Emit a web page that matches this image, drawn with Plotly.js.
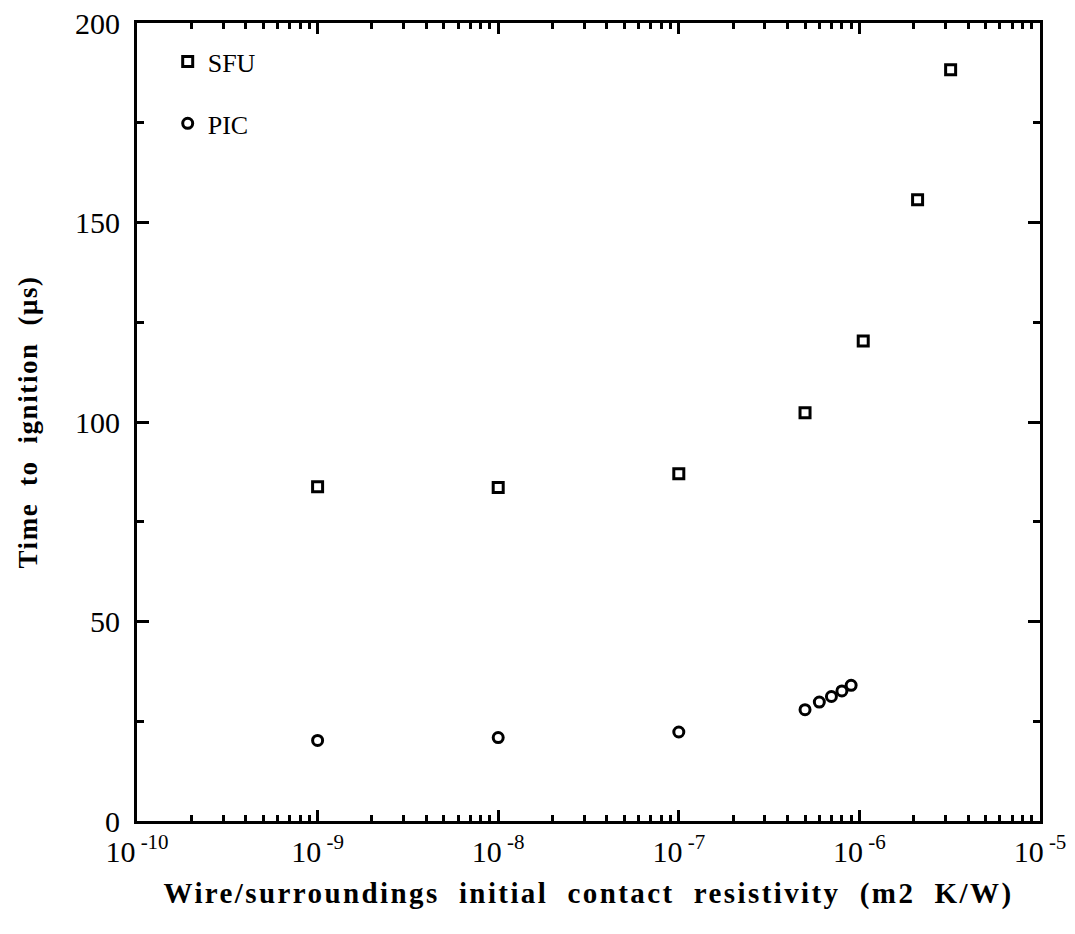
<!DOCTYPE html>
<html><head><meta charset="utf-8">
<script src="https://cdn.plot.ly/plotly-3.0.1.min.js"></script>
<style>html,body{margin:0;padding:0;background:#fff}#chart{width:1075px;height:934px}
.xtitle{letter-spacing:2.4px}.ytitle{letter-spacing:1.6px}</style>
</head><body><div id="chart"></div>
<script>
const sfuX = [1e-9, 1e-8, 1e-7, 5e-7, 1.05e-6, 2.1e-6, 3.2e-6];
const sfuY = [83.8, 83.6, 87.0, 102.3, 120.3, 155.7, 188.3];
const picX = [1e-9, 1e-8, 1e-7, 5e-7, 6e-7, 7e-7, 8e-7, 9e-7];
const picY = [20.2, 20.9, 22.3, 27.9, 29.8, 31.2, 32.6, 34.0];
const xTickVals = [1e-10, 1e-9, 1e-8, 1e-7, 1e-6, 1e-5];
const xTickText = ['10<sup> -10</sup>', '10<sup> -9</sup>', '10<sup> -8</sup>', '10<sup> -7</sup>', '10<sup> -6</sup>', '10<sup> -5</sup>'];
const yTickVals = [0, 50, 100, 150, 200];

const minorX = [];
for (let e = -10; e < -5; e++) for (let m = 2; m <= 9; m++) minorX.push(m * Math.pow(10, e));

const font = 'Liberation Serif, Times New Roman, serif';
const sp = '\u00a0\u00a0';
const traces = [
  {x: sfuX, y: sfuY, name: 'SFU', mode: 'markers', type: 'scatter', legendgroup: 'a',
   marker: {symbol: 'square-open', size: 10, color: '#000', line: {width: 3, color: '#000'}}},
  {x: picX, y: picY, name: 'PIC', mode: 'markers', type: 'scatter', legendgroup: 'b',
   marker: {symbol: 'circle-open', size: 10, color: '#000', line: {width: 3, color: '#000'}}}
];
const layout = {
  width: 1075, height: 934,
  margin: {l: 137, r: 35, t: 23, b: 113},
  paper_bgcolor: '#fff', plot_bgcolor: '#fff',
  font: {family: font, color: '#000', size: 26},
  showlegend: true,
  legend: {x: 0.034, y: 0.981, xanchor: 'left', yanchor: 'top', bgcolor: 'rgba(0,0,0,0)',
           font: {size: 26, family: font}, traceorder: 'grouped', tracegroupgap: 25},
  xaxis: {type: 'log', range: [-10, -5], showgrid: false, zeroline: false,
          showline: true, linecolor: '#000', linewidth: 3, mirror: 'allticks',
          ticks: 'inside', ticklen: 11, tickwidth: 3, tickcolor: '#000',
          tickmode: 'array', tickvals: xTickVals, ticktext: xTickText,
          tickfont: {size: 30, family: font}, ticklabelstandoff: 2,
          minor: {tickmode: 'array', tickvals: minorX, ticks: 'inside', ticklen: 6, tickwidth: 3, tickcolor: '#000', showgrid: false},
          title: {text: ['Wire/surroundings', 'initial', 'contact', 'resistivity', '(m2', 'K/W)'].join(sp), standoff: 16,
                  font: {size: 29, family: font, weight: 'bold'}}},
  yaxis: {range: [0, 200], showgrid: false, zeroline: false,
          showline: true, linecolor: '#000', linewidth: 3, mirror: 'allticks',
          ticks: 'inside', ticklen: 12, tickwidth: 3, tickcolor: '#000',
          tickmode: 'array', tickvals: yTickVals,
          tickfont: {size: 30, family: font}, ticklabelstandoff: 8,
          minor: {dtick: 25, ticks: 'inside', ticklen: 7, tickwidth: 3, tickcolor: '#000', showgrid: false},
          title: {text: ['Time', 'to', 'ignition', '(μs)'].join(sp), standoff: 30,
                  font: {size: 27, family: font, weight: 'bold'}}}
};
Plotly.newPlot('chart', traces, layout, {displayModeBar: false, staticPlot: true});
</script></body></html>
